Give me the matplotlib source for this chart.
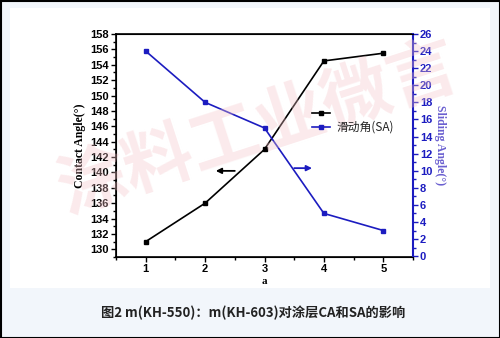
import matplotlib
matplotlib.use("Agg")
import matplotlib.pyplot as plt
from matplotlib.patches import Rectangle
from matplotlib.ticker import MultipleLocator

x = [1, 2, 3, 4, 5]
contact_angle = [131, 136, 143, 154.5, 155.5]
sliding_angle = [24, 18, 15, 5, 3]
xticks = [1, 2, 3, 4, 5]
legend_labels = ["", "滑动角(SA)"]
caption = "图2 m(KH-550)：m(KH-603)对涂层CA和SA的影响"

W, H = 500, 338
fig = plt.figure(figsize=(W/100, H/100), dpi=100)
fig.patch.set_facecolor("#f2f6fb")
fig.add_artist(Rectangle((10/W, 1-288/H), 480/W, 280/H, transform=fig.transFigure,
                         facecolor="white", edgecolor="none", zorder=0))
fig.add_artist(Rectangle((0.5/W, 0.5/H), 1-1/W, 1-1/H, transform=fig.transFigure,
                         facecolor="none", edgecolor="black", lw=1.5, zorder=10))

# watermark
fig.text(258/W, 1-130/H, "涂料工业微言", fontsize=50, color="#f4c3c8", alpha=0.35,
         rotation=18, ha="center", va="center", family=["Noto Sans CJK SC"],
         fontweight="bold", zorder=0.5)

ax = fig.add_axes([116/W, 1-257/H, (413-116)/W, (257-34)/H])
ax.set_facecolor("none")
blue = "#1c1cc0"
ax.plot(x, contact_angle, color="black", lw=1.2, marker="s", ms=3.5, zorder=3)
ax.set_xlim(0.5, 5.5)
ax.set_ylim(129, 158)
ax.set_xticks(xticks)
ax.xaxis.set_minor_locator(MultipleLocator(0.5))
ax.yaxis.set_major_locator(MultipleLocator(2))
ax.yaxis.set_minor_locator(MultipleLocator(1))
ax.tick_params(axis="both", which="major", direction="out", length=3.5, width=1,
               labelsize=8, pad=1.5)
ax.tick_params(axis="both", which="minor", direction="out", length=2, width=1)
for lab in ax.get_xticklabels() + ax.get_yticklabels():
    lab.set_fontweight("bold")
    lab.set_family("Liberation Sans")
ax.set_ylabel("Contact Angle(°)", family="Liberation Serif", fontweight="bold",
              fontsize=8.5, labelpad=3)
ax.set_xlabel("a", family="Liberation Serif", fontweight="bold", fontsize=8, labelpad=2)
for s in ["top", "right", "left", "bottom"]:
    ax.spines[s].set_linewidth(1.2)

ax2 = ax.twinx()
ax2.plot(x, sliding_angle, color=blue, lw=1.2, marker="s", ms=3.5, zorder=3)
ax2.set_ylim(-0.1, 26)
ax2.yaxis.set_major_locator(MultipleLocator(2))
ax2.yaxis.set_minor_locator(MultipleLocator(1))
ax2.tick_params(axis="y", which="major", direction="out", length=3.5, width=1,
                labelsize=8, colors=blue, pad=1.5)
ax2.tick_params(axis="y", which="minor", direction="out", length=2, width=1, colors=blue)
for lab in ax2.get_yticklabels():
    lab.set_fontweight("bold")
    lab.set_family("Liberation Sans")
ax2.spines["right"].set_color(blue)
ax2.spines["right"].set_linewidth(1.5)
ax2.set_ylabel("Sliding Angle(°)", family="Liberation Serif", fontweight="bold",
               fontsize=8.5, color="#6a5fd0", rotation=270, labelpad=10)

# arrows
ax.annotate("", xy=(2.18, 140.2), xytext=(2.5, 140.2),
            arrowprops=dict(arrowstyle="-|>", color="black", lw=1.3, mutation_scale=8,
                            shrinkA=0, shrinkB=0))
ax2.annotate("", xy=(3.8, 10.3), xytext=(3.5, 10.3),
             arrowprops=dict(arrowstyle="-|>", color=blue, lw=1.3, mutation_scale=8,
                             shrinkA=0, shrinkB=0))

# legend
lx0, lx1 = 312/W, 330/W
fig.add_artist(plt.Line2D([lx0, (lx0+lx1)/2, lx1], [1-113/H]*3, color="black", lw=1.2,
                          marker="s", ms=3.5, markevery=[1], transform=fig.transFigure))
fig.add_artist(plt.Line2D([lx0, (lx0+lx1)/2, lx1], [1-127/H]*3, color=blue, lw=1.2,
                          marker="s", ms=3.5, markevery=[1], transform=fig.transFigure))
fig.text(337/W, 1-127/H, legend_labels[1], fontsize=8.5, va="center", ha="left",
         family=["Noto Sans CJK SC", "Liberation Serif"], color="#222222")

fig.text(253/W, 1-313/H, caption, fontsize=9.5, ha="center", va="center",
         family=["Noto Sans CJK SC", "DejaVu Sans"], fontweight="bold", color="#222222")

fig.savefig("out.png", dpi=100)
